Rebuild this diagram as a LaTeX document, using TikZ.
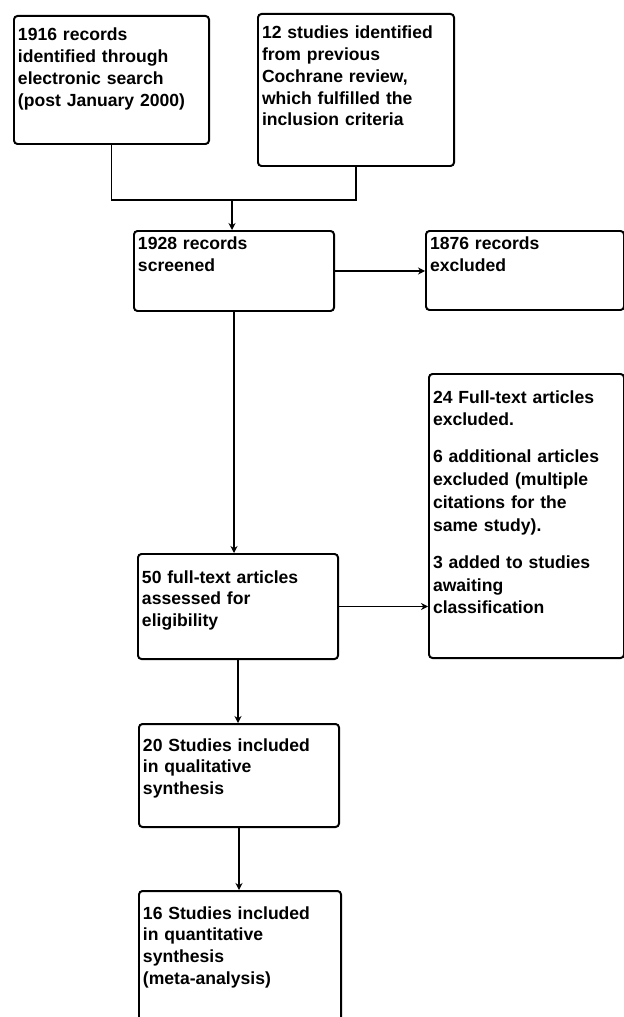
\documentclass[tikz,border=0pt]{standalone}
\usepackage{fontspec}
\setmainfont{Liberation Sans}
\usetikzlibrary{arrows.meta}
\tikzset{
	prismabox/.style={draw, line width=1.7pt, rounded corners=3pt, anchor=north west, align=left, inner sep=0.12cm, font=\bfseries\fontsize{15}{18.5}\selectfont, text height=0.63cm},
	flowline/.style={line width=1.5pt},
	flowarrow/.style={line width=1.5pt, -{Stealth[length=6pt,width=6pt]}}
}

\begin{document}
\begin{tikzpicture}[x=0.03cm, y=-0.03cm]
		\useasboundingbox (0,0) rectangle (624,1017);
		
		\node[prismabox, text width=5.61cm, text depth=2.97cm] at (13,15) (search) {1916 records\\identified through\\electronic search\\(post January 2000)};
		\node[prismabox, text width=5.64cm, text depth=3.69cm] at (257,13) (cochrane) {12 studies identified\\from previous\\Cochrane review,\\which fulfilled the\\inclusion criteria};
		\node[prismabox, text width=5.76cm, text height=0.45cm, text depth=1.71cm] at (133,230) (screened) {1928 records\\screened};
		\node[prismabox, text width=5.70cm, text height=0.45cm, text depth=1.68cm] at (425,230) (excl) {1876 records\\excluded};
		\node[prismabox, text width=5.76cm, text height=0.75cm, text depth=2.16cm] at (137,553) (fulltext) {50 full-text articles\\assessed for\\eligibility};
		\node[prismabox, text width=5.61cm, text height=0.75cm, text depth=7.53cm, font=\bfseries\fontsize{15}{19.5}\selectfont] at (428,373) (ftexcl) {24 Full-text articles\\excluded.\\[12pt]6 additional articles\\excluded (multiple\\citations for the\\same study).\\[12pt]3 added to studies\\awaiting\\classification};
		\node[prismabox, text width=5.76cm, text height=0.69cm, text depth=2.16cm] at (138,723) (qual) {20 Studies included\\in qualitative\\synthesis};
		\node[prismabox, text width=5.82cm, text height=0.72cm, text depth=3.54cm] at (138,890) (quant) {16 Studies included\\in quantitative\\synthesis\\(meta-analysis)};
		
		%Lines
		\coordinate (merge) at (232,200);
		\draw[flowline] (search.south) |- (merge) -| (cochrane.south);
		\draw[flowarrow] (merge) -- (merge |- screened.north);
		\draw[flowarrow] (screened.east) -- (screened.east -| excl.west);
		\draw[flowarrow] (screened.south) -- (screened.south |- fulltext.north);
		\draw[flowarrow] (fulltext.east) -- (fulltext.east -| ftexcl.west);
		\draw[flowarrow] (fulltext.south) -- (fulltext.south |- qual.north);
		\draw[flowarrow] (qual.south) -- (qual.south |- quant.north);
		
\end{tikzpicture}
\end{document}
